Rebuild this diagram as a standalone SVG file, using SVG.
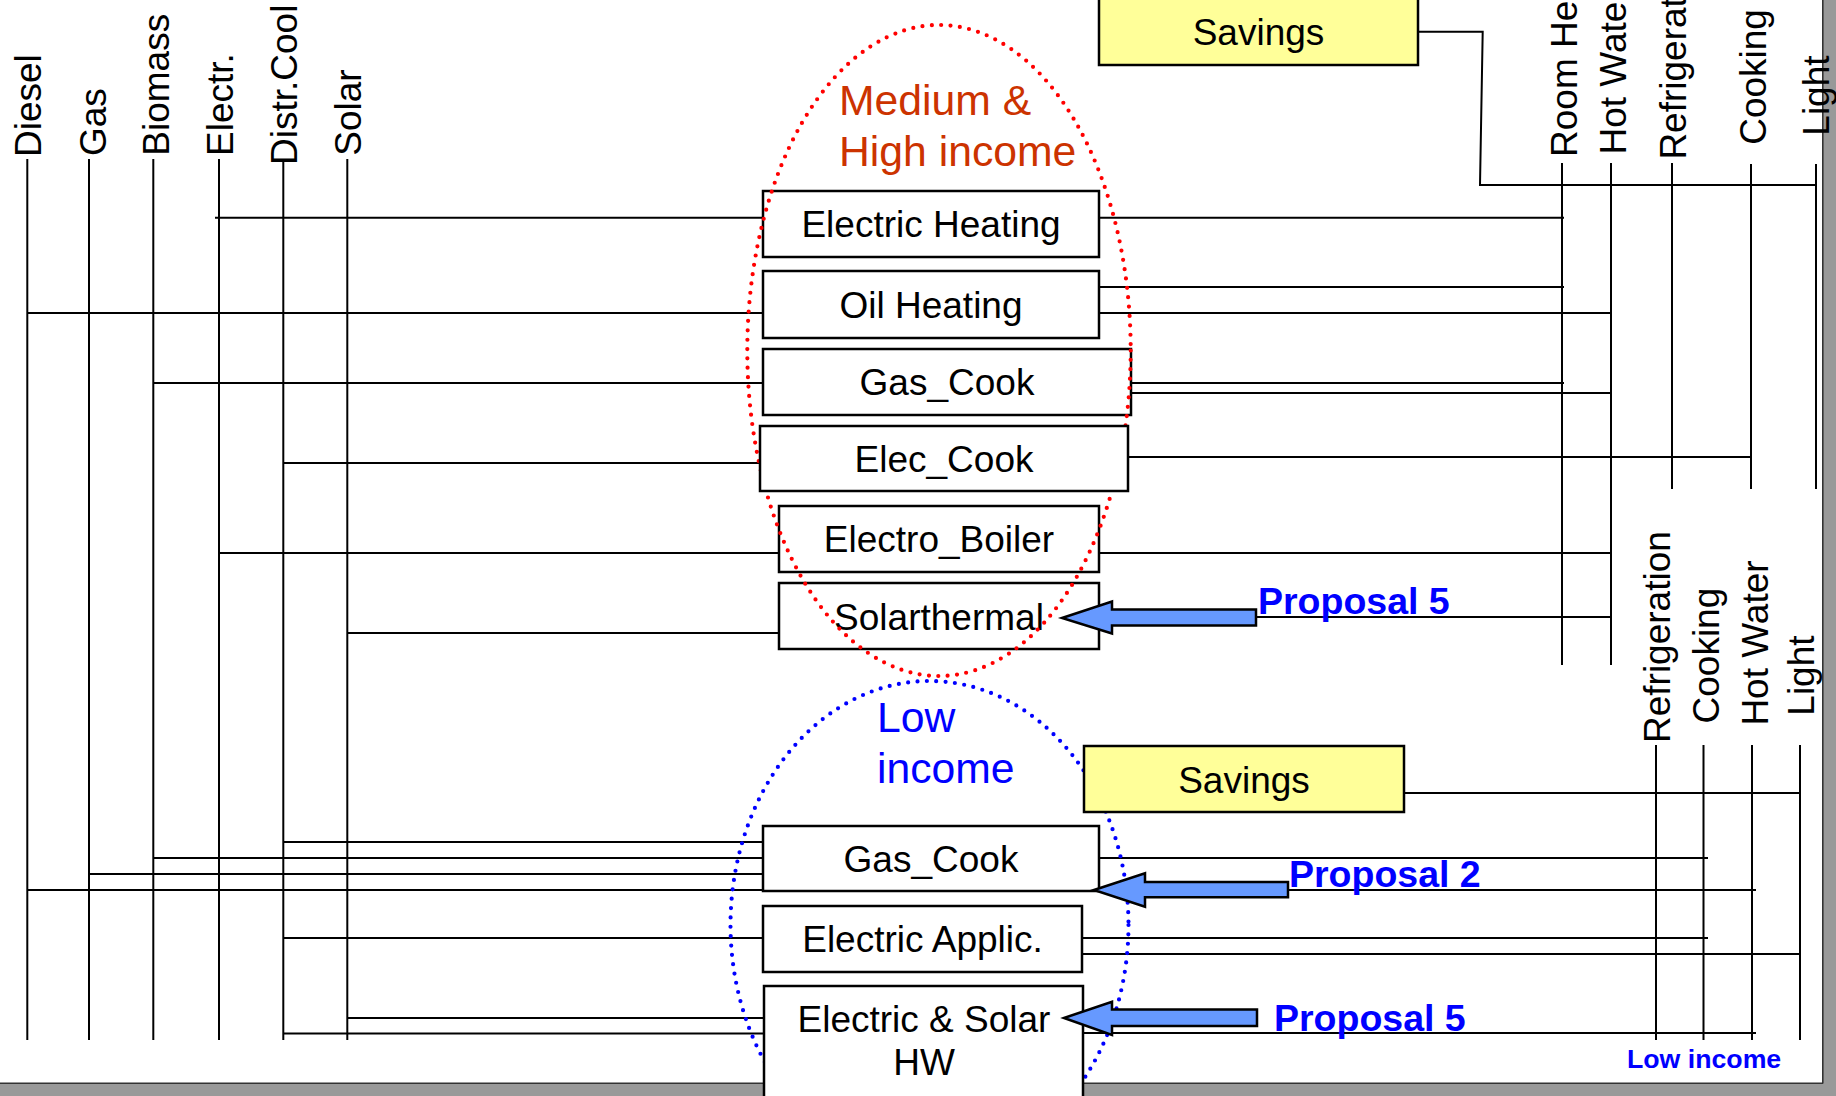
<svg xmlns="http://www.w3.org/2000/svg" width="1836" height="1096" viewBox="0 0 1836 1096">
<defs>
<style>
.ln{stroke:#000;stroke-width:2;fill:none}
.box{fill:#fff;stroke:#000;stroke-width:2.5}
.sav{fill:#FFFF99;stroke:#000;stroke-width:2.5}
.t{font-family:"Liberation Sans",Arial,sans-serif;font-size:37px;fill:#000}
.c{text-anchor:middle}
.prop{font-family:"Liberation Sans",Arial,sans-serif;font-size:37.5px;font-weight:bold;fill:#0000FF}
.arr{fill:#6699FF;stroke:#000;stroke-width:2.5;stroke-linejoin:miter}
.dotr{fill:none;stroke:#FF0000;stroke-width:4.2;stroke-linecap:round;stroke-dasharray:0 9.4}
.dotb{fill:none;stroke:#0000FF;stroke-width:4.2;stroke-linecap:round;stroke-dasharray:0 9.4}
.grp{font-family:"Liberation Sans",Arial,sans-serif;font-size:42.7px}
</style>
</defs>
<rect x="0" y="0" width="1836" height="1096" fill="#fff"/>
<g id="frame">
<rect x="1823" y="0" width="13" height="1096" fill="#999"/>
<rect x="0" y="1083" width="1836" height="13" fill="#999"/>
<line x1="1822.8" y1="0" x2="1822.8" y2="1083.5" stroke="#333" stroke-width="1.6"/>
<line x1="0" y1="1083.2" x2="1823" y2="1083.2" stroke="#333" stroke-width="1.6"/>
</g>
<g id="connectors">
<line class="ln" x1="27.3" y1="159" x2="27.3" y2="1040"/>
<line class="ln" x1="89" y1="159" x2="89" y2="1040"/>
<line class="ln" x1="153.3" y1="159" x2="153.3" y2="1040"/>
<line class="ln" x1="219" y1="159" x2="219" y2="1040"/>
<line class="ln" x1="283.3" y1="161.5" x2="283.3" y2="1040"/>
<line class="ln" x1="347.3" y1="159" x2="347.3" y2="1040"/>
<line class="ln" x1="215" y1="217.7" x2="763" y2="217.7"/>
<line class="ln" x1="27" y1="313" x2="763" y2="313"/>
<line class="ln" x1="153" y1="383" x2="763" y2="383"/>
<line class="ln" x1="283" y1="463" x2="760" y2="463"/>
<line class="ln" x1="219" y1="553" x2="779" y2="553"/>
<line class="ln" x1="347" y1="633" x2="779" y2="633"/>
<line class="ln" x1="1099" y1="217.7" x2="1564" y2="217.7"/>
<line class="ln" x1="1099" y1="287" x2="1564" y2="287"/>
<line class="ln" x1="1099" y1="313" x2="1612" y2="313"/>
<line class="ln" x1="1131" y1="383" x2="1564" y2="383"/>
<line class="ln" x1="1131" y1="393" x2="1612" y2="393"/>
<line class="ln" x1="1128" y1="457" x2="1752" y2="457"/>
<line class="ln" x1="1099" y1="553" x2="1612" y2="553"/>
<line class="ln" x1="1099" y1="617" x2="1612" y2="617"/>
<polyline class="ln" points="1418,31.7 1482.7,31.7 1480,185 1816,185"/>
<line class="ln" x1="1562" y1="163" x2="1562" y2="665"/>
<line class="ln" x1="1611" y1="163" x2="1611" y2="665"/>
<line class="ln" x1="1672" y1="163" x2="1672" y2="489"/>
<line class="ln" x1="1751" y1="164" x2="1751" y2="489"/>
<line class="ln" x1="1816" y1="164" x2="1816" y2="489"/>
<line class="ln" x1="283" y1="842" x2="763" y2="842"/>
<line class="ln" x1="153" y1="858" x2="763" y2="858"/>
<line class="ln" x1="89" y1="874" x2="763" y2="874"/>
<line class="ln" x1="27" y1="890" x2="763" y2="890"/>
<line class="ln" x1="283" y1="938" x2="763" y2="938"/>
<line class="ln" x1="347" y1="1018" x2="764" y2="1018"/>
<line class="ln" x1="283" y1="1033.5" x2="764" y2="1033.5"/>
<line class="ln" x1="1404" y1="793" x2="1800" y2="793"/>
<line class="ln" x1="1099" y1="858" x2="1708" y2="858"/>
<line class="ln" x1="1099" y1="890" x2="1756" y2="890"/>
<line class="ln" x1="1082" y1="938" x2="1708" y2="938"/>
<line class="ln" x1="1080" y1="954" x2="1800" y2="954"/>
<line class="ln" x1="1083" y1="1033" x2="1756" y2="1033"/>
<line class="ln" x1="1656" y1="745" x2="1656" y2="1040"/>
<line class="ln" x1="1703.5" y1="745" x2="1703.5" y2="1040"/>
<line class="ln" x1="1752" y1="745" x2="1752" y2="1040"/>
<line class="ln" x1="1800" y1="745" x2="1800" y2="1040"/>
</g>
<g id="labels">
<text class="t" transform="translate(41,157) rotate(-90)">Diesel</text>
<text class="t" transform="translate(105.5,156) rotate(-90)">Gas</text>
<text class="t" transform="translate(168.5,155.7) rotate(-90)">Biomass</text>
<text class="t" transform="translate(233,156) rotate(-90)">Electr.</text>
<text class="t" transform="translate(297,165) rotate(-90)">Distr.Cool</text>
<text class="t" transform="translate(361,155.7) rotate(-90)">Solar</text>
<text class="t" transform="translate(1577.3,157) rotate(-90)">Room He</text>
<text class="t" transform="translate(1626,154.5) rotate(-90)">Hot Wate</text>
<text class="t" transform="translate(1686,159.6) rotate(-90)">Refrigerat</text>
<text class="t" transform="translate(1765.5,144.8) rotate(-90)">Cooking</text>
<text class="t" transform="translate(1829,135.7) rotate(-90)">Light</text>
<text class="t" transform="translate(1670,743) rotate(-90)">Refrigeration</text>
<text class="t" transform="translate(1719.3,723.5) rotate(-90)">Cooking</text>
<text class="t" transform="translate(1768.3,725.6) rotate(-90)">Hot Water</text>
<text class="t" transform="translate(1814,715.7) rotate(-90)">Light</text>
</g>
<ellipse class="dotb" cx="929.5" cy="925" rx="199" ry="244"/>
<g id="node-electric-heating"><rect class="box" x="763" y="191" width="336" height="66"/><text class="t c" x="931" y="237">Electric Heating</text></g>
<g id="node-oil-heating"><rect class="box" x="763" y="271" width="336" height="67"/><text class="t c" x="931" y="317.5">Oil Heating</text></g>
<g id="node-gas-cook-high"><rect class="box" x="763" y="349" width="368" height="66"/><text class="t c" x="947" y="395">Gas_Cook</text></g>
<g id="node-electro-boiler"><rect class="box" x="779" y="506" width="320" height="66"/><text class="t c" x="939" y="552">Electro_Boiler</text></g>
<g id="node-solarthermal"><rect class="box" x="779" y="583" width="320" height="66"/><text class="t c" x="939" y="629.5">Solarthermal</text></g>
<ellipse class="dotr" cx="939" cy="350.5" rx="191.7" ry="325.5"/>
<g id="node-elec-cook"><rect class="box" x="760" y="426" width="368" height="65"/><text class="t c" x="944" y="471.5">Elec_Cook</text></g>
<g id="node-savings-high"><rect class="sav" x="1099" y="-3" width="319" height="68"/><text class="t c" x="1258.5" y="45">Savings</text></g>
<g id="node-savings-low"><rect class="sav" x="1084" y="746" width="320" height="66"/><text class="t c" x="1244" y="792.5">Savings</text></g>
<g id="node-gas-cook-low"><rect class="box" x="763" y="826" width="336" height="65"/><text class="t c" x="931" y="871.5">Gas_Cook</text></g>
<g id="node-electric-applic"><rect class="box" x="763" y="906" width="319" height="66"/><text class="t c" x="922.5" y="952">Electric Applic.</text></g>
<g id="node-electric-solar-hw"><rect class="box" x="764" y="986" width="319" height="130"/><text class="t c" x="924" y="1032">Electric &amp; Solar</text><text class="t c" x="924" y="1075">HW</text></g>
<g id="group-titles">
<text class="grp" x="839" y="115" fill="#CC3300">Medium &amp;</text>
<text class="grp" x="839" y="165.7" fill="#CC3300">High income</text>
<text class="grp" x="877" y="731.7" fill="#0000FF">Low</text>
<text class="grp" x="877" y="783.3" fill="#0000FF">income</text>
</g>
<g id="proposals">
<polygon class="arr" points="1062,618 1112,601.5 1112,609.5 1256,609.5 1256,625.5 1112,625.5 1112,633.5"/>
<polygon class="arr" points="1094,890 1145,873.3 1145,882 1288,882 1288,897.3 1145,897.3 1145,906.7"/>
<polygon class="arr" points="1064,1018 1112,1001.7 1112,1009.5 1257,1009.5 1257,1026 1112,1026 1112,1035"/>
<text class="prop" x="1258" y="614">Proposal 5</text>
<text class="prop" x="1289" y="887">Proposal 2</text>
<text class="prop" x="1274" y="1030.5">Proposal 5</text>
<text x="1627" y="1068" font-family="Liberation Sans, Arial, sans-serif" font-size="26.7" font-weight="bold" fill="#0000FF">Low income</text>
</g>
</svg>
